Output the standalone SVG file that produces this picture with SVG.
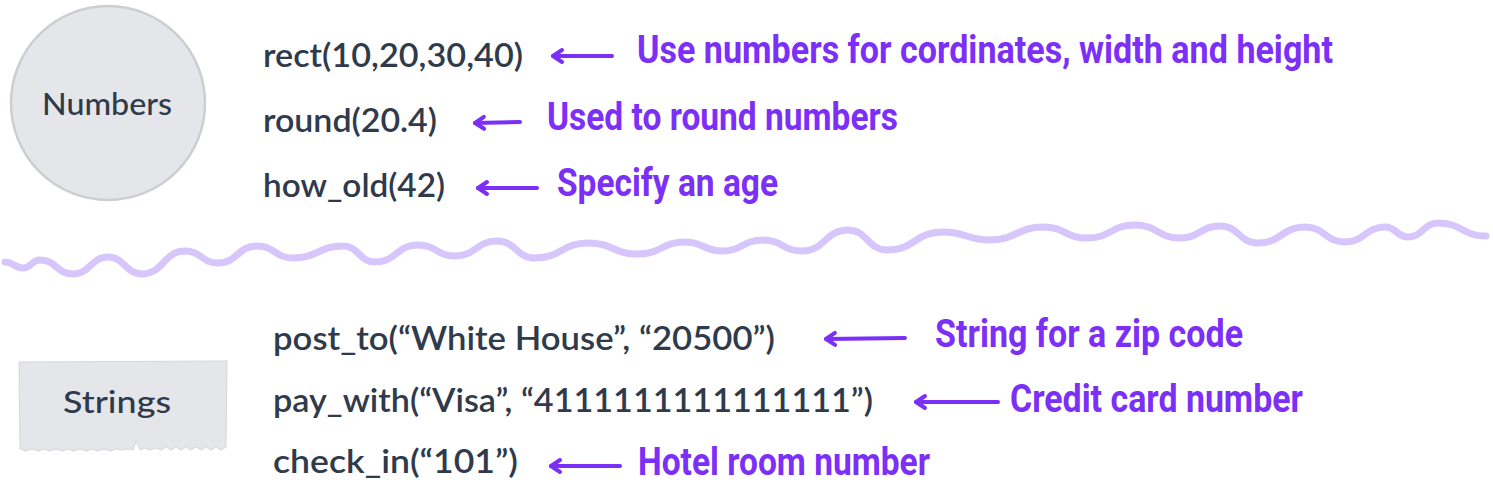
<svg xmlns="http://www.w3.org/2000/svg" width="1493" height="484" viewBox="0 0 1493 484">
<style>
.code{font-family:"Lato","Open Sans",sans-serif;font-size:33px;font-weight:600;fill:#2f3a4b}
.tag{font-family:"Lato","Open Sans",sans-serif;font-size:31px;font-weight:500;fill:#2f3a4b}
.note{font-family:"Roboto","Open Sans",sans-serif;font-size:38px;font-weight:700;fill:#7b2ff7}
.arrow{stroke:#7b2ff7;stroke-width:4;fill:none;stroke-linecap:round}
.node{fill:#e5e6ea}
</style>
<defs>
<marker id="head" markerUnits="userSpaceOnUse" viewBox="-14 -10 18 20" refX="0" refY="0" markerWidth="18" markerHeight="20" orient="auto">
<path d="M-9,-6 L0,0 L-9,6" fill="none" stroke="#7b2ff7" stroke-width="4" stroke-linecap="round" stroke-linejoin="round"/>
</marker>
</defs>
<rect width="1493" height="484" fill="#ffffff"/>
<g id="numbers">
<circle class="node" cx="108" cy="103" r="97" stroke="#cdced2" stroke-width="2.5"/>
<text class="tag" x="107" y="115" text-anchor="middle" textLength="130" lengthAdjust="spacingAndGlyphs">Numbers</text>
</g>
<g id="strings">
<path class="node" stroke="#d6d7db" stroke-width="1" d="M19,362 L227,361 L226,447 L221,450 L216,447 L211,450 L206,447 L201,450 L196,447 L191,450 L186,447 L181,450 L176,447 L171,450 L166,447 L161,450 L156,448 L150,450 L145,448 L140,450 L136,441 L133,450 L128,449 L122,450 L116,449 L110,451 L104,449 L98,451 L92,449 L86,451 L80,449 L74,451 L68,449 L62,451 L56,449 L50,451 L44,449 L38,451 L32,449 L26,451 L20,449 Z"/>
<text class="tag" x="117" y="413" text-anchor="middle" textLength="108" lengthAdjust="spacingAndGlyphs">Strings</text>
</g>
<g id="code-numbers">
<text class="code" x="263" y="67" textLength="260" lengthAdjust="spacingAndGlyphs">rect(10,20,30,40)</text>
<text class="code" x="263" y="132" textLength="174" lengthAdjust="spacingAndGlyphs">round(20.4)</text>
<text class="code" x="263" y="197" textLength="182" lengthAdjust="spacingAndGlyphs">how_old(42)</text>
</g>
<g id="code-strings">
<text class="code" x="273" y="350" textLength="502" lengthAdjust="spacingAndGlyphs">post_to(“White House”, “20500”)</text>
<text class="code" x="273" y="412" textLength="600" lengthAdjust="spacingAndGlyphs">pay_with(“Visa”, “4111111111111111”)</text>
<text class="code" x="273" y="473" textLength="245" lengthAdjust="spacingAndGlyphs">check_in(“101”)</text>
</g>
<g id="notes">
<text class="note" x="637" y="63" textLength="696" lengthAdjust="spacingAndGlyphs">Use numbers for cordinates, width and height</text>
<text class="note" x="547" y="130" textLength="351" lengthAdjust="spacingAndGlyphs">Used to round numbers</text>
<text class="note" x="557" y="196" textLength="221" lengthAdjust="spacingAndGlyphs">Specify an age</text>
<text class="note" x="935" y="347" textLength="308" lengthAdjust="spacingAndGlyphs">String for a zip code</text>
<text class="note" x="1010" y="412" textLength="293" lengthAdjust="spacingAndGlyphs">Credit card number</text>
<text class="note" x="638" y="475" textLength="292" lengthAdjust="spacingAndGlyphs">Hotel room number</text>
</g>
<g id="connectors">
<path class="arrow" marker-end="url(#head)" d="M612,56 L553,56"/>
<path class="arrow" marker-end="url(#head)" d="M520,122 L475,123"/>
<path class="arrow" marker-end="url(#head)" d="M537,188 L478,188"/>
<path class="arrow" marker-end="url(#head)" d="M905,338 L826,339"/>
<path class="arrow" marker-end="url(#head)" d="M998,402 L916,402"/>
<path class="arrow" marker-end="url(#head)" d="M620,466 L551,466"/>
</g>
<g id="divider">
<path fill="none" stroke="#d7c6fb" stroke-width="7" stroke-linecap="round" stroke-linejoin="round" d="M5,262 C14,262 14,268 23,268 C31.5,268 31.5,260 40,260 C56.5,260 56.5,274 73,274 C90.5,274 90.5,257 108,257 C125,257 125,274 142,274 C163.5,274 163.5,251 185,251 C201.5,251 201.5,263 218,263 C237.5,263 237.5,246 257,246 C275,246 275,258 293,258 C318,258 318,246 343,246 C359,246 359,262 375,262 C396.5,262 396.5,245 418,245 C436.5,245 436.5,256 455,256 C476,256 476,241 497,241 C516,241 516,258 535,258 C561.5,258 561.5,243 588,243 C613,243 613,254 638,254 C661.5,254 661.5,242 685,242 C703.5,242 703.5,251 722,251 C742.5,251 742.5,240 763,240 C782.5,240 782.5,251 802,251 C825,251 825,230 848,230 C867.5,230 867.5,250 887,250 C915,250 915,232 943,232 C966.5,232 966.5,240 990,240 C1016.5,240 1016.5,227 1043,227 C1065,227 1065,238 1087,238 C1111,238 1111,225 1135,225 C1157.5,225 1157.5,238 1180,238 C1200,238 1200,226 1220,226 C1239,226 1239,243 1258,243 C1281.5,243 1281.5,227 1305,227 C1325,227 1325,242 1345,242 C1365,242 1365,227 1385,227 C1396.5,227 1396.5,237 1408,237 C1423,237 1423,223 1438,223 C1462,223 1462,236 1486,236"/>
</g>
</svg>
